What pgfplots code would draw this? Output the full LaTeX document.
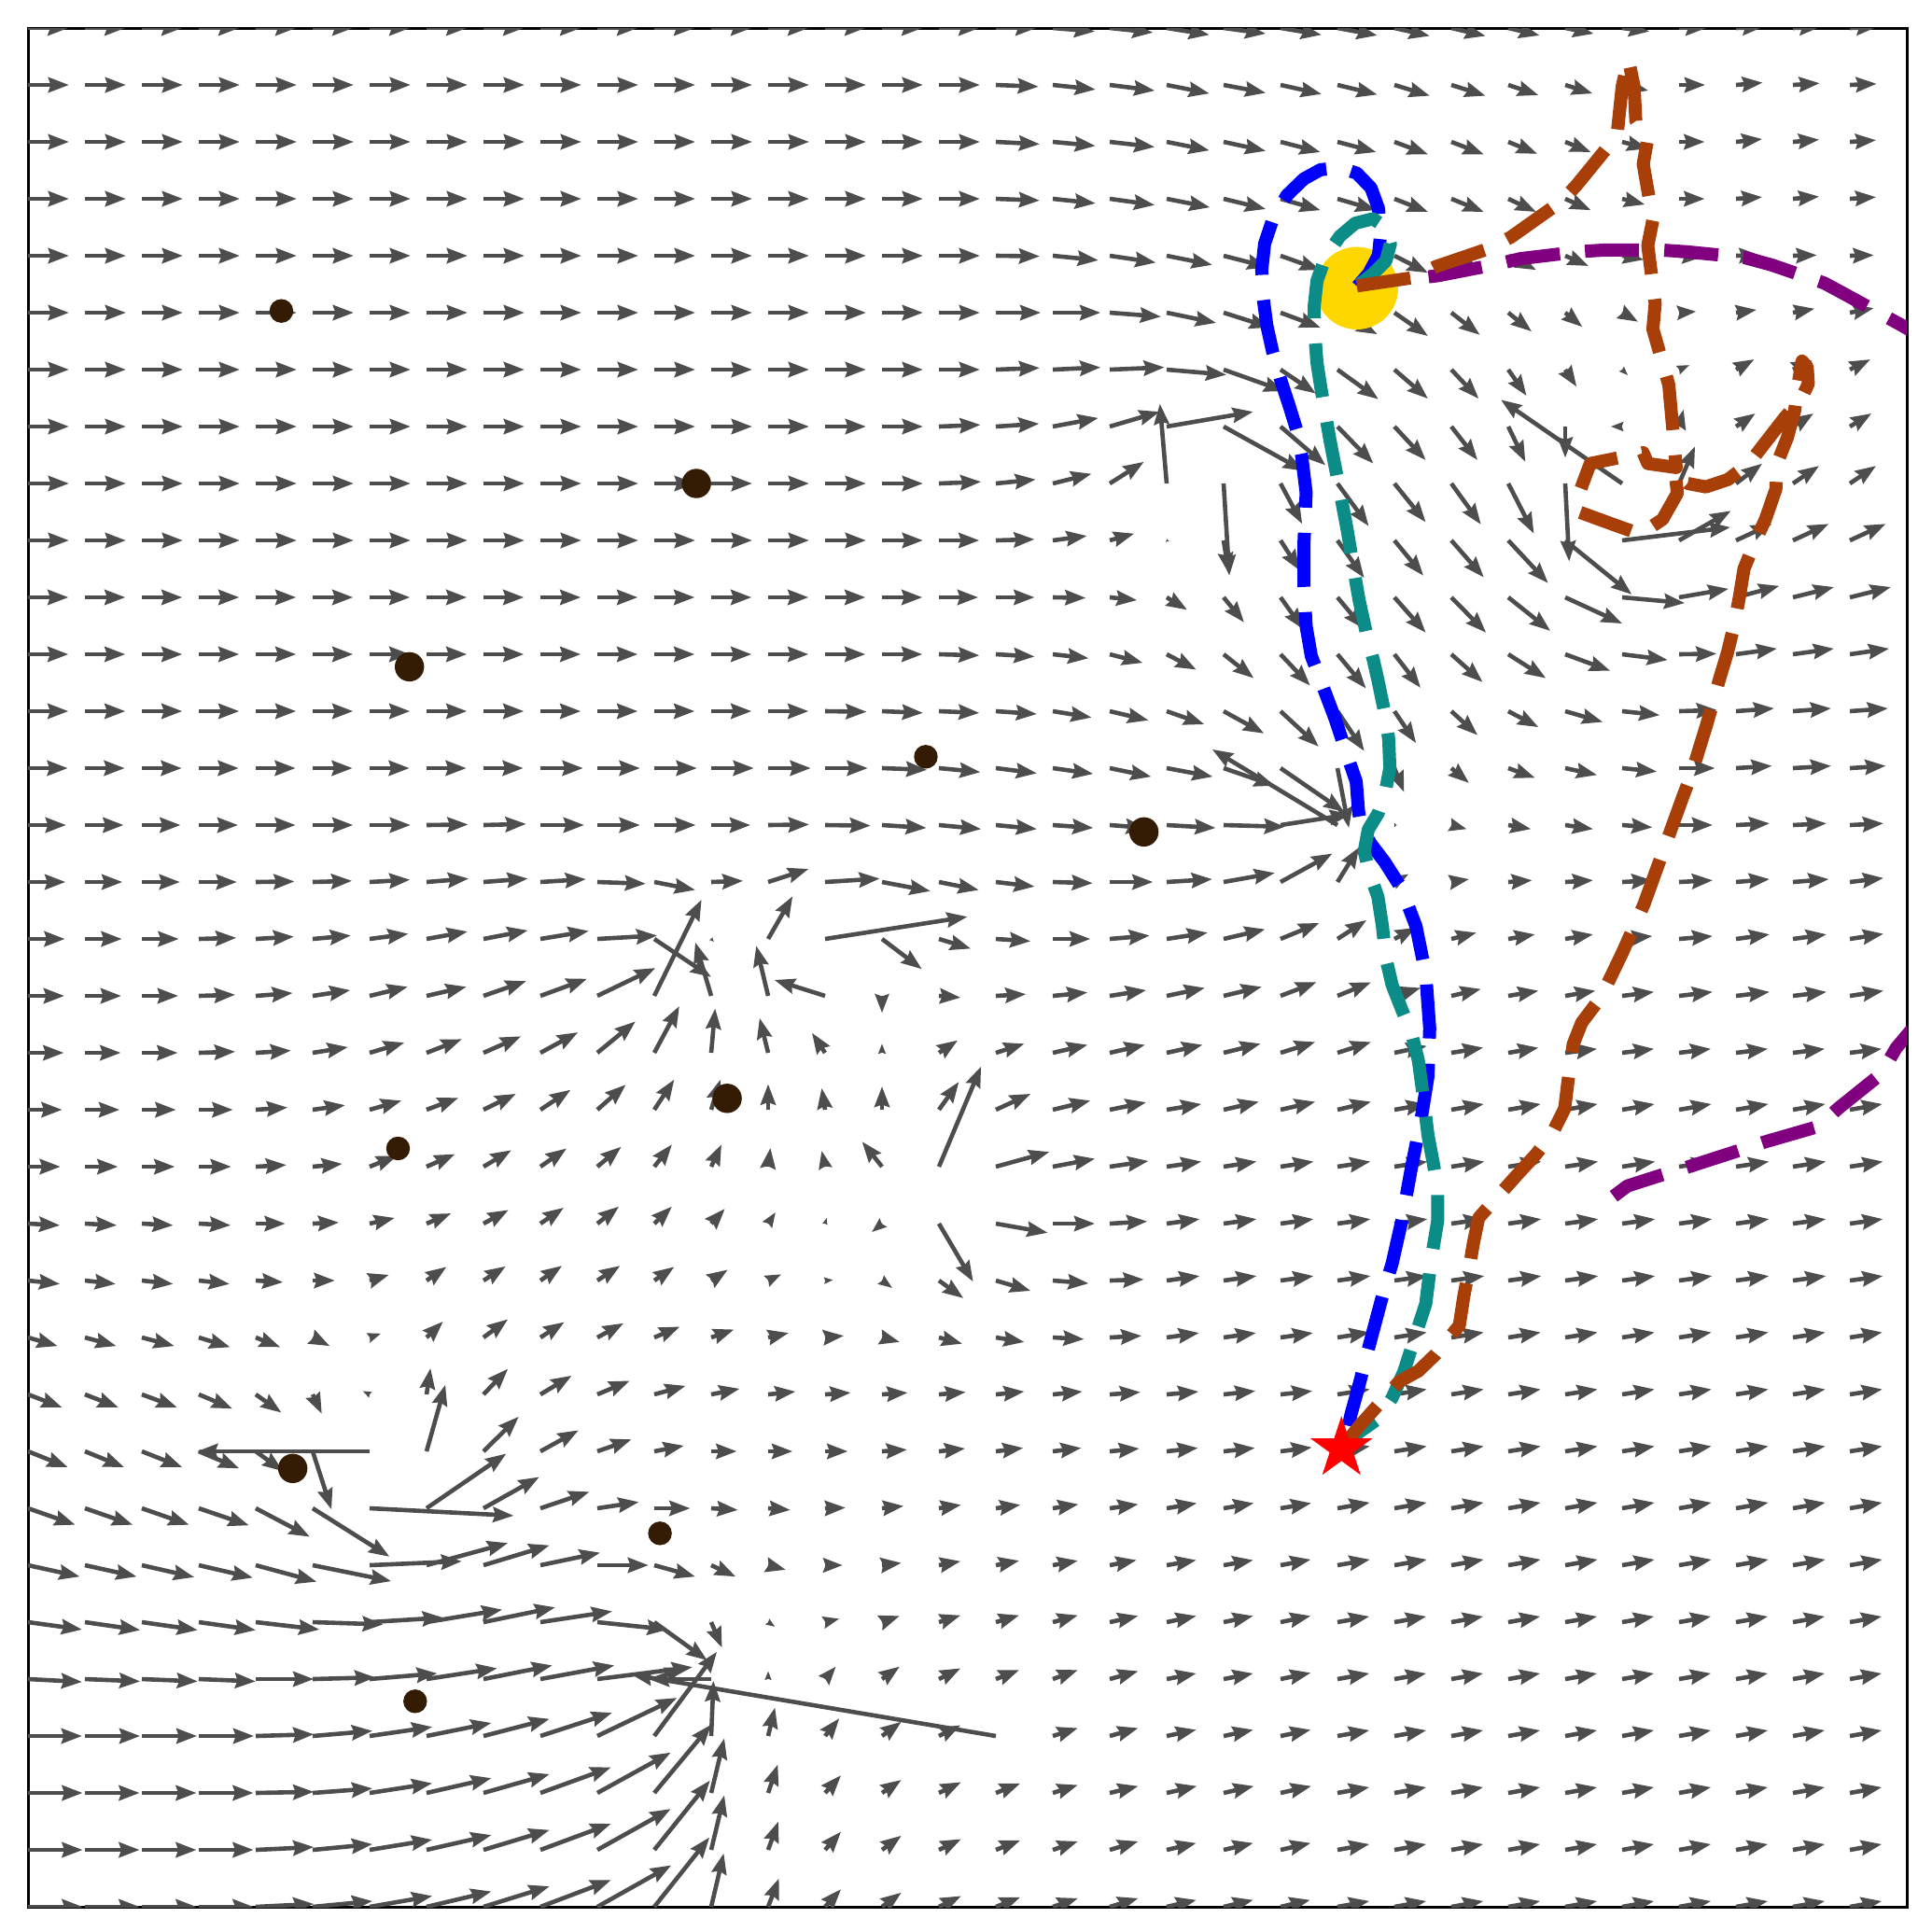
\documentclass[border=0pt]{standalone}
\usepackage{pgfplots}
\pgfplotsset{compat=1.18}
\usetikzlibrary{arrows.meta}
\definecolor{qgray}{RGB}{77,77,77}
\definecolor{obst}{RGB}{51,28,3}
\definecolor{goalc}{RGB}{255,215,0}
\definecolor{tealc}{RGB}{12,140,135}
\definecolor{brownc}{RGB}{168,62,8}
\definecolor{purplec}{RGB}{128,0,128}
\pgfdeclareplotmark{fstar}{%
  \pgfpathmoveto{\pgfpointpolar{90}{\pgfplotmarksize}}%
  \pgfpathlineto{\pgfpointpolar{126}{0.382*\pgfplotmarksize}}%
  \pgfpathlineto{\pgfpointpolar{162}{\pgfplotmarksize}}%
  \pgfpathlineto{\pgfpointpolar{198}{0.382*\pgfplotmarksize}}%
  \pgfpathlineto{\pgfpointpolar{234}{\pgfplotmarksize}}%
  \pgfpathlineto{\pgfpointpolar{270}{0.382*\pgfplotmarksize}}%
  \pgfpathlineto{\pgfpointpolar{306}{\pgfplotmarksize}}%
  \pgfpathlineto{\pgfpointpolar{342}{0.382*\pgfplotmarksize}}%
  \pgfpathlineto{\pgfpointpolar{18}{\pgfplotmarksize}}%
  \pgfpathlineto{\pgfpointpolar{54}{0.382*\pgfplotmarksize}}%
  \pgfpathclose
  \pgfusepathqfillstroke
}
\begin{document}
\begin{tikzpicture}
\useasboundingbox (-0.30,-0.27) rectangle (20.40,20.43);
\begin{axis}[
  at={(0,0)}, anchor=south west,
  width=20.13cm, height=20.13cm, scale only axis,
  xmin=0, xmax=33, ymin=0, ymax=33, y dir=reverse,
  xtick=\empty, ytick=\empty,
  axis line style={line width=0.03cm, black},
  point meta min=0, point meta max=0.33,
  clip=true, clip marker paths=true,
]
\addplot[
  color=qgray, line width=0.046cm,
  quiver={u=\thisrow{u}, v=\thisrow{v},
    every arrow/.append style={-{Stealth[length=0.22cm, width=0.16cm, inset=0.025cm,
      scale length={min(1,\pgfplotspointmetatransformed/1000)},
      scale width={min(1,\pgfplotspointmetatransformed/1000)}]}}},
  point meta={sqrt((\thisrow{u})^2+(\thisrow{v})^2)},
] table[row sep=\\] {
x y u v\\
0 0 0.71 0\\1 0 0.71 0\\2 0 0.71 0\\3 0 0.71 0\\4 0 0.71 0\\5 0 0.71 0\\6 0 0.71 0\\7 0 0.71 0\\8 0 0.71 0\\9 0 0.71 0\\10 0 0.71 0\\11 0 0.71 0\\12 0 0.71 0\\13 0 0.71 0\\14 0 0.71 0\\15 0 0.71 0\\16 0 0.71 0\\17 0 0.71 0\\18 0 0.74 0.06\\19 0 0.76 0.08\\20 0 0.75 0.12\\21 0 0.74 0.1\\22 0 0.72 0.12\\23 0 0.7 0.13\\24 0 0.62 0.14\\25 0 0.6 0.14\\26 0 0.55 0.13\\27 0 0.5 0.1\\28 0 0.48 0.06\\29 0 0.48 0\\30 0 0.48 -0.02\\31 0 0.48 -0.02\\32 0 0.48 -0.02\\
0 1 0.72 0\\1 1 0.72 0\\2 1 0.72 0\\3 1 0.72 0\\4 1 0.72 0\\5 1 0.72 0\\6 1 0.72 0\\7 1 0.72 0\\8 1 0.72 0\\9 1 0.72 0\\10 1 0.72 0\\11 1 0.72 0\\12 1 0.72 0\\13 1 0.72 0\\14 1 0.72 0\\15 1 0.72 0\\16 1 0.72 0\\17 1 0.75 0.03\\18 1 0.75 0.08\\19 1 0.79 0.1\\20 1 0.75 0.15\\21 1 0.74 0.14\\22 1 0.72 0.16\\23 1 0.7 0.17\\24 1 0.62 0.19\\25 1 0.6 0.19\\26 1 0.53 0.18\\27 1 0.48 0.15\\28 1 0.46 0.1\\29 1 0.46 0\\30 1 0.47 -0.04\\31 1 0.47 -0.03\\32 1 0.47 -0.02\\
0 2 0.72 0\\1 2 0.72 0\\2 2 0.72 0\\3 2 0.72 0\\4 2 0.72 0\\5 2 0.72 0\\6 2 0.72 0\\7 2 0.72 0\\8 2 0.72 0\\9 2 0.72 0\\10 2 0.72 0\\11 2 0.72 0\\12 2 0.72 0\\13 2 0.72 0\\14 2 0.72 0\\15 2 0.72 0\\16 2 0.72 0\\17 2 0.77 0.04\\18 2 0.75 0.07\\19 2 0.79 0.09\\20 2 0.75 0.15\\21 2 0.74 0.16\\22 2 0.7 0.18\\23 2 0.68 0.18\\24 2 0.59 0.22\\25 2 0.57 0.22\\26 2 0.51 0.21\\27 2 0.45 0.18\\28 2 0.45 0.12\\29 2 0.45 0\\30 2 0.46 -0.05\\31 2 0.46 -0.04\\32 2 0.46 -0.03\\
0 3 0.72 0\\1 3 0.72 0\\2 3 0.72 0\\3 3 0.72 0\\4 3 0.72 0\\5 3 0.72 0\\6 3 0.72 0\\7 3 0.72 0\\8 3 0.72 0\\9 3 0.72 0\\10 3 0.72 0\\11 3 0.72 0\\12 3 0.72 0\\13 3 0.72 0\\14 3 0.72 0\\15 3 0.72 0\\16 3 0.72 0\\17 3 0.77 0.03\\18 3 0.75 0.08\\19 3 0.79 0.11\\20 3 0.76 0.15\\21 3 0.74 0.18\\22 3 0.7 0.2\\23 3 0.68 0.2\\24 3 0.59 0.23\\25 3 0.57 0.23\\26 3 0.49 0.23\\27 3 0.45 0.2\\28 3 0.4 0.1\\29 3 0.45 0\\30 3 0.46 -0.03\\31 3 0.46 -0.04\\32 3 0.46 -0.03\\
0 4 0.72 0\\1 4 0.72 0\\2 4 0.72 0\\3 4 0.72 0\\4 4 0.72 0\\5 4 0.72 0\\6 4 0.72 0\\7 4 0.72 0\\8 4 0.72 0\\9 4 0.72 0\\10 4 0.72 0\\11 4 0.72 0\\12 4 0.72 0\\13 4 0.72 0\\14 4 0.72 0\\15 4 0.72 0\\16 4 0.72 0\\17 4 0.77 0.01\\18 4 0.8 0.08\\19 4 0.81 0.12\\20 4 0.8 0.16\\21 4 0.78 0.2\\22 4 0.7 0.25\\23 4 0.68 0.3\\24 4 0.59 0.3\\25 4 0.52 0.28\\26 4 0.49 0.25\\27 4 0.41 0.18\\28 4 0.38 0.07\\29 4 0.42 0.02\\30 4 0.42 -0.01\\31 4 0.42 -0.01\\32 4 0.42 -0.01\\
0 5 0.72 0\\1 5 0.72 0\\2 5 0.72 0\\3 5 0.72 0\\4 5 0.72 0\\5 5 0.72 0\\6 5 0.72 0\\7 5 0.72 0\\8 5 0.72 0\\9 5 0.72 0\\10 5 0.72 0\\11 5 0.72 0\\12 5 0.72 0\\13 5 0.72 0\\14 5 0.72 0\\15 5 0.72 0\\16 5 0.72 0\\17 5 0.79 0\\18 5 0.84 0\\19 5 0.9 0.07\\20 5 0.87 0.18\\21 5 0.82 0.26\\22 5 0.7 0.26\\23 5 0.7 0.38\\24 5 0.59 0.41\\25 5 0.5 0.39\\26 5 0.41 0.33\\27 5 0.3 0.25\\28 5 0.28 0.16\\29 5 0.3 -0.02\\30 5 0.36 -0.05\\31 5 0.38 -0.07\\32 5 0.42 -0.08\\
0 6 0.72 0\\1 6 0.72 0\\2 6 0.72 0\\3 6 0.72 0\\4 6 0.72 0\\5 6 0.72 0\\6 6 0.72 0\\7 6 0.72 0\\8 6 0.72 0\\9 6 0.72 0\\10 6 0.72 0\\11 6 0.72 0\\12 6 0.72 0\\13 6 0.72 0\\14 6 0.72 0\\15 6 0.72 0\\16 6 0.72 0\\17 6 0.77 -0.03\\18 6 0.84 -0.04\\19 6 0.96 -0.04\\20 6 1.05 0.09\\21 6 1.07 0.38\\22 6 0.62 0.42\\23 6 0.72 0.52\\24 6 0.59 0.51\\25 6 0.48 0.51\\26 6 0.32 0.46\\27 6 0.2 0.3\\28 6 0.1 0.1\\29 6 0.18 -0.08\\30 6 0.32 -0.18\\31 6 0.34 -0.16\\32 6 0.36 -0.18\\
0 7 0.72 0\\1 7 0.72 0\\2 7 0.72 0\\3 7 0.72 0\\4 7 0.72 0\\5 7 0.72 0\\6 7 0.72 0\\7 7 0.72 0\\8 7 0.72 0\\9 7 0.72 0\\10 7 0.72 0\\11 7 0.72 0\\12 7 0.72 0\\13 7 0.72 0\\14 7 0.72 0\\15 7 0.72 0\\16 7 0.73 -0.03\\17 7 0.76 -0.05\\18 7 0.8 -0.15\\19 7 0.88 -0.26\\20 7 1.52 -0.26\\21 7 1.41 0.78\\22 7 0.79 0.68\\23 7 0.63 0.65\\24 7 0.55 0.59\\25 7 0.46 0.59\\26 7 0.3 0.62\\27 7 0 0.55\\28 7 -0.2 0\\29 7 0.08 -0.3\\30 7 0.34 -0.23\\31 7 0.36 -0.23\\32 7 0.38 -0.23\\
0 8 0.72 0\\1 8 0.72 0\\2 8 0.72 0\\3 8 0.72 0\\4 8 0.72 0\\5 8 0.72 0\\6 8 0.72 0\\7 8 0.72 0\\8 8 0.72 0\\9 8 0.72 0\\10 8 0.72 0\\11 8 0.72 0\\12 8 0.72 0\\13 8 0.72 0\\14 8 0.72 0\\15 8 0.72 0\\16 8 0.74 -0.03\\17 8 0.7 -0.07\\18 8 0.68 -0.17\\19 8 0.6 -0.38\\20 8 -0.12 -1.4\\21 8 0.1 1.62\\22 8 0.38 0.71\\23 8 0.55 0.75\\24 8 0.55 0.68\\25 8 0.52 0.72\\26 8 0.45 0.88\\27 8 0.07 1.37\\28 8 -2.13 -1.47\\29 8 0.28 -0.65\\30 8 0.46 -0.35\\31 8 0.46 -0.31\\32 8 0.46 -0.31\\
0 9 0.72 0\\1 9 0.72 0\\2 9 0.72 0\\3 9 0.72 0\\4 9 0.72 0\\5 9 0.72 0\\6 9 0.72 0\\7 9 0.72 0\\8 9 0.72 0\\9 9 0.72 0\\10 9 0.72 0\\11 9 0.72 0\\12 9 0.72 0\\13 9 0.72 0\\14 9 0.72 0\\15 9 0.72 0\\16 9 0.71 0\\17 9 0.68 -0.02\\18 9 0.6 -0.08\\19 9 0.43 -0.12\\20 9 0.05 0.02\\21 9 0.09 0.58\\22 9 0.34 0.53\\23 9 0.47 0.66\\24 9 0.51 0.62\\25 9 0.57 0.65\\26 9 0.7 0.75\\27 9 1.17 0.95\\28 9 1.9 -0.23\\29 9 0.91 -0.52\\30 9 0.63 -0.29\\31 9 0.63 -0.29\\32 9 0.63 -0.29\\
0 10 0.71 0\\1 10 0.71 0\\2 10 0.71 0\\3 10 0.71 0\\4 10 0.71 0\\5 10 0.71 0\\6 10 0.71 0\\7 10 0.71 0\\8 10 0.71 0\\9 10 0.71 0\\10 10 0.71 0\\11 10 0.71 0\\12 10 0.71 0\\13 10 0.71 0\\14 10 0.71 0\\15 10 0.71 0\\16 10 0.69 0\\17 10 0.68 0\\18 10 0.58 0.01\\19 10 0.48 0.05\\20 10 0.36 0.22\\21 10 0.36 0.44\\22 10 0.4 0.56\\23 10 0.46 0.55\\24 10 0.55 0.62\\25 10 0.61 0.62\\26 10 0.74 0.59\\27 10 1.0 0.46\\28 10 1.1 0.1\\29 10 0.87 -0.15\\30 10 0.76 -0.2\\31 10 0.72 -0.18\\32 10 0.72 -0.18\\
0 11 0.71 0\\1 11 0.71 0\\2 11 0.71 0\\3 11 0.71 0\\4 11 0.71 0\\5 11 0.71 0\\6 11 0.71 0\\7 11 0.71 0\\8 11 0.71 0\\9 11 0.71 0\\10 11 0.71 0\\11 11 0.71 0\\12 11 0.71 0\\13 11 0.71 0\\14 11 0.71 0\\15 11 0.71 0\\16 11 0.71 0.02\\17 11 0.68 0.04\\18 11 0.63 0.07\\19 11 0.58 0.15\\20 11 0.52 0.27\\21 11 0.53 0.42\\22 11 0.52 0.55\\23 11 0.5 0.6\\24 11 0.46 0.59\\25 11 0.55 0.49\\26 11 0.66 0.42\\27 11 0.79 0.29\\28 11 0.8 0.1\\29 11 0.66 -0.01\\30 11 0.72 -0.1\\31 11 0.72 -0.1\\32 11 0.69 -0.1\\
0 12 0.71 0\\1 12 0.71 0\\2 12 0.71 0\\3 12 0.71 0\\4 12 0.71 0\\5 12 0.71 0\\6 12 0.71 0\\7 12 0.71 0\\8 12 0.71 0\\9 12 0.71 0\\10 12 0.71 0\\11 12 0.71 0\\12 12 0.71 0\\13 12 0.71 0\\14 12 0.73 0.01\\15 12 0.72 0.03\\16 12 0.71 0.03\\17 12 0.72 0.05\\18 12 0.68 0.11\\19 12 0.68 0.16\\20 12 0.66 0.23\\21 12 0.71 0.39\\22 12 0.67 0.62\\23 12 0.47 0.7\\24 12 0.38 0.56\\25 12 0.46 0.42\\26 12 0.53 0.28\\27 12 0.66 0.19\\28 12 0.66 0.07\\29 12 0.67 -0.02\\30 12 0.67 -0.05\\31 12 0.67 -0.05\\32 12 0.67 -0.05\\
0 13 0.7 0\\1 13 0.7 0\\2 13 0.7 0\\3 13 0.7 0\\4 13 0.7 0\\5 13 0.7 0\\6 13 0.7 0\\7 13 0.7 0\\8 13 0.7 0\\9 13 0.75 0\\10 13 0.75 0\\11 13 0.75 0\\12 13 0.75 0\\13 13 0.75 0\\14 13 0.75 0\\15 13 0.79 0.03\\16 13 0.73 0.07\\17 13 0.72 0.09\\18 13 0.71 0.1\\19 13 0.73 0.15\\20 13 0.81 0.15\\21 13 0.9 0.31\\22 13 1.12 0.77\\23 13 0.2 1.05\\24 13 0.17 0.42\\25 13 0.31 0.26\\26 13 0.47 0.17\\27 13 0.56 0.12\\28 13 0.61 0.06\\29 13 0.63 0\\30 13 0.63 -0.04\\31 13 0.67 -0.04\\32 13 0.63 -0.04\\
0 14 0.67 0\\1 14 0.68 0\\2 14 0.68 0\\3 14 0.69 0\\4 14 0.7 0\\5 14 0.71 0\\6 14 0.72 0\\7 14 0.73 -0.01\\8 14 0.75 -0.02\\9 14 0.77 0\\10 14 0.75 0\\11 14 0.73 0\\12 14 0.69 0\\13 14 0.72 -0.01\\14 14 0.8 0.01\\15 14 0.78 0.05\\16 14 0.74 0.07\\17 14 0.72 0.07\\18 14 0.71 0.05\\19 14 0.65 0.05\\20 14 0.86 0.05\\21 14 1.08 0.03\\22 14 1.23 -0.19\\23 14 -2.2 -1.33\\24 14 0.05 0\\25 14 0.27 0.07\\26 14 0.4 0.07\\27 14 0.49 0.07\\28 14 0.53 0.04\\29 14 0.59 0\\30 14 0.59 -0.03\\31 14 0.59 -0.03\\32 14 0.59 -0.03\\
0 15 0.66 0\\1 15 0.66 0\\2 15 0.67 0\\3 15 0.67 0\\4 15 0.68 -0.01\\5 15 0.69 -0.02\\6 15 0.71 -0.04\\7 15 0.74 -0.06\\8 15 0.78 -0.06\\9 15 0.8 -0.05\\10 15 0.85 0.03\\11 15 0.72 0.14\\12 15 0.56 -0.02\\13 15 0.71 -0.23\\14 15 0.96 -0.06\\15 15 0.85 0.16\\16 15 0.7 0.14\\17 15 0.68 0.08\\18 15 0.7 0.02\\19 15 0.76 0\\20 15 0.8 -0.05\\21 15 0.9 -0.16\\22 15 0.91 -0.5\\23 15 0.38 -0.61\\24 15 0.25 -0.14\\25 15 0.31 -0.05\\26 15 0.42 -0.03\\27 15 0.49 -0.03\\28 15 0.53 -0.03\\29 15 0.59 -0.03\\30 15 0.59 -0.05\\31 15 0.63 -0.05\\32 15 0.59 -0.07\\
0 16 0.65 0\\1 16 0.65 0\\2 16 0.65 0\\3 16 0.66 -0.02\\4 16 0.67 -0.04\\5 16 0.67 -0.06\\6 16 0.68 -0.09\\7 16 0.72 -0.13\\8 16 0.78 -0.15\\9 16 0.85 -0.14\\10 16 1.05 -0.06\\11 16 1.0 0.67\\12 16 0.05 0.05\\13 16 0.43 -0.75\\14 16 2.5 -0.39\\15 16 0.7 0.53\\16 16 0.56 0.17\\17 16 0.61 0.04\\18 16 0.66 0\\19 16 0.7 -0.06\\20 16 0.72 -0.11\\21 16 0.73 -0.17\\22 16 0.68 -0.28\\23 16 0.51 -0.33\\24 16 0.38 -0.2\\25 16 0.44 -0.11\\26 16 0.47 -0.08\\27 16 0.49 -0.08\\28 16 0.53 -0.05\\29 16 0.59 -0.05\\30 16 0.59 -0.08\\31 16 0.59 -0.08\\32 16 0.59 -0.09\\
0 17 0.64 0\\1 17 0.64 0\\2 17 0.64 0\\3 17 0.64 -0.02\\4 17 0.65 -0.05\\5 17 0.66 -0.1\\6 17 0.67 -0.16\\7 17 0.7 -0.16\\8 17 0.75 -0.26\\9 17 0.82 -0.3\\10 17 1.02 -0.49\\11 17 0.83 -1.69\\12 17 -0.28 -0.94\\13 17 -0.21 -0.88\\14 17 -0.89 -0.28\\15 17 0 0.3\\16 17 0.38 0.03\\17 17 0.53 -0.03\\18 17 0.61 -0.06\\19 17 0.64 -0.1\\20 17 0.67 -0.14\\21 17 0.67 -0.16\\22 17 0.63 -0.24\\23 17 0.59 -0.24\\24 17 0.46 -0.14\\25 17 0.52 -0.12\\26 17 0.53 -0.09\\27 17 0.53 -0.09\\28 17 0.56 -0.07\\29 17 0.59 -0.07\\30 17 0.59 -0.07\\31 17 0.59 -0.07\\32 17 0.59 -0.09\\
0 18 0.63 0\\1 18 0.63 0\\2 18 0.63 0\\3 18 0.64 -0.02\\4 18 0.62 -0.04\\5 18 0.62 -0.1\\6 18 0.61 -0.18\\7 18 0.62 -0.24\\8 18 0.66 -0.29\\9 18 0.66 -0.36\\10 18 0.67 -0.55\\11 18 0.44 -0.82\\12 18 0.07 -0.78\\13 18 -0.15 -0.61\\14 18 -0.23 -0.35\\15 18 0 -0.16\\16 18 0.33 -0.22\\17 18 0.5 -0.16\\18 18 0.61 -0.14\\19 18 0.62 -0.14\\20 18 0.63 -0.14\\21 18 0.65 -0.16\\22 18 0.61 -0.19\\23 18 0.59 -0.19\\24 18 0.57 -0.12\\25 18 0.56 -0.09\\26 18 0.53 -0.09\\27 18 0.56 -0.07\\28 18 0.56 -0.07\\29 18 0.56 -0.07\\30 18 0.56 -0.07\\31 18 0.56 -0.07\\32 18 0.56 -0.07\\
0 19 0.6 0\\1 19 0.61 0\\2 19 0.6 0\\3 19 0.6 0\\4 19 0.56 -0.04\\5 19 0.57 -0.08\\6 19 0.56 -0.16\\7 19 0.56 -0.21\\8 19 0.57 -0.28\\9 19 0.53 -0.35\\10 19 0.5 -0.44\\11 19 0.35 -0.53\\12 19 0.16 -0.53\\13 19 0 -0.45\\14 19 -0.06 -0.38\\15 19 0 -0.41\\16 19 0.35 -0.49\\17 19 0.61 -0.28\\18 19 0.66 -0.16\\19 19 0.64 -0.13\\20 19 0.61 -0.1\\21 19 0.62 -0.14\\22 19 0.61 -0.14\\23 19 0.59 -0.14\\24 19 0.57 -0.1\\25 19 0.57 -0.1\\26 19 0.57 -0.1\\27 19 0.57 -0.1\\28 19 0.57 -0.1\\29 19 0.57 -0.1\\30 19 0.57 -0.1\\31 19 0.57 -0.1\\32 19 0.57 -0.1\\
0 20 0.57 0\\1 20 0.58 0\\2 20 0.58 0\\3 20 0.57 0\\4 20 0.54 -0.03\\5 20 0.52 -0.05\\6 20 0.48 -0.19\\7 20 0.5 -0.22\\8 20 0.49 -0.29\\9 20 0.46 -0.32\\10 20 0.42 -0.35\\11 20 0.31 -0.39\\12 20 0.18 -0.39\\13 20 0.04 -0.33\\14 20 -0.06 -0.28\\15 20 -0.35 -0.44\\16 20 0.74 -1.76\\17 20 0.94 -0.26\\18 20 0.74 -0.14\\19 20 0.68 -0.1\\20 20 0.61 -0.09\\21 20 0.58 -0.09\\22 20 0.58 -0.09\\23 20 0.58 -0.09\\24 20 0.58 -0.09\\25 20 0.58 -0.09\\26 20 0.58 -0.09\\27 20 0.58 -0.09\\28 20 0.58 -0.09\\29 20 0.58 -0.09\\30 20 0.58 -0.09\\31 20 0.58 -0.09\\32 20 0.58 -0.09\\
0 21 0.56 0.03\\1 21 0.56 0.03\\2 21 0.55 0.03\\3 21 0.56 0.03\\4 21 0.52 0\\5 21 0.46 -0.02\\6 21 0.44 -0.1\\7 21 0.43 -0.18\\8 21 0.44 -0.24\\9 21 0.41 -0.28\\10 21 0.38 -0.3\\11 21 0.31 -0.3\\12 21 0.24 -0.26\\13 21 0.13 -0.2\\14 21 0.03 -0.1\\15 21 -0.18 0.15\\16 21 0.6 1.02\\17 21 0.91 0.16\\18 21 0.74 0\\19 21 0.66 -0.04\\20 21 0.58 -0.08\\21 21 0.58 -0.08\\22 21 0.58 -0.08\\23 21 0.58 -0.08\\24 21 0.58 -0.08\\25 21 0.58 -0.08\\26 21 0.58 -0.08\\27 21 0.58 -0.08\\28 21 0.58 -0.08\\29 21 0.58 -0.08\\30 21 0.58 -0.08\\31 21 0.58 -0.08\\32 21 0.58 -0.08\\
0 22 0.56 0.06\\1 22 0.54 0.06\\2 22 0.55 0.06\\3 22 0.54 0.06\\4 22 0.48 0.03\\5 22 0.39 0\\6 22 0.34 -0.1\\7 22 0.35 -0.24\\8 22 0.39 -0.25\\9 22 0.38 -0.26\\10 22 0.4 -0.26\\11 22 0.35 -0.24\\12 22 0.29 -0.19\\13 22 0.23 -0.11\\14 22 0.14 -0.01\\15 22 0.18 0.13\\16 22 0.43 0.31\\17 22 0.61 0.18\\18 22 0.63 0.05\\19 22 0.6 -0.02\\20 22 0.58 -0.08\\21 22 0.58 -0.08\\22 22 0.58 -0.08\\23 22 0.58 -0.08\\24 22 0.58 -0.08\\25 22 0.58 -0.08\\26 22 0.58 -0.08\\27 22 0.58 -0.08\\28 22 0.58 -0.08\\29 22 0.58 -0.08\\30 22 0.58 -0.08\\31 22 0.58 -0.08\\32 22 0.58 -0.08\\
0 23 0.52 0.15\\1 23 0.55 0.15\\2 23 0.57 0.15\\3 23 0.55 0.17\\4 23 0.43 0.17\\5 23 0.3 0.15\\6 23 0.2 -0.07\\7 23 0.29 -0.28\\8 23 0.43 -0.32\\9 23 0.42 -0.27\\10 23 0.46 -0.25\\11 23 0.45 -0.19\\12 23 0.4 -0.14\\13 23 0.36 -0.08\\14 23 0.33 -0.03\\15 23 0.31 0.08\\16 23 0.41 0.11\\17 23 0.5 0.08\\18 23 0.55 0.03\\19 23 0.56 -0.03\\20 23 0.57 -0.08\\21 23 0.57 -0.08\\22 23 0.57 -0.08\\23 23 0.57 -0.09\\24 23 0.57 -0.09\\25 23 0.57 -0.09\\26 23 0.57 -0.09\\27 23 0.57 -0.09\\28 23 0.57 -0.09\\29 23 0.57 -0.09\\30 23 0.57 -0.09\\31 23 0.57 -0.09\\32 23 0.57 -0.09\\
0 24 0.6 0.23\\1 24 0.59 0.23\\2 24 0.62 0.23\\3 24 0.59 0.25\\4 24 0.45 0.32\\5 24 0.16 0.34\\6 24 -0.12 -0.06\\7 24 0.07 -0.46\\8 24 0.43 -0.45\\9 24 0.55 -0.33\\10 24 0.57 -0.24\\11 24 0.55 -0.15\\12 24 0.5 -0.1\\13 24 0.48 -0.05\\14 24 0.45 -0.03\\15 24 0.45 -0.03\\16 24 0.47 -0.04\\17 24 0.5 -0.05\\18 24 0.52 -0.05\\19 24 0.54 -0.04\\20 24 0.56 -0.05\\21 24 0.56 -0.06\\22 24 0.56 -0.06\\23 24 0.57 -0.09\\24 24 0.57 -0.09\\25 24 0.57 -0.09\\26 24 0.57 -0.09\\27 24 0.57 -0.09\\28 24 0.57 -0.09\\29 24 0.57 -0.09\\30 24 0.57 -0.09\\31 24 0.57 -0.09\\32 24 0.57 -0.09\\
0 25 0.7 0.28\\1 25 0.69 0.28\\2 25 0.71 0.28\\3 25 0.71 0.3\\4 25 0.48 0.35\\5 25 0.33 1.02\\6 25 -3.03 0\\7 25 0.33 -1.17\\8 25 0.62 -0.61\\9 25 0.67 -0.37\\10 25 0.6 -0.21\\11 25 0.52 -0.1\\12 25 0.45 0\\13 25 0.43 0\\14 25 0.4 0\\15 25 0.44 -0.03\\16 25 0.46 -0.05\\17 25 0.48 -0.06\\18 25 0.5 -0.06\\19 25 0.52 -0.05\\20 25 0.55 -0.06\\21 25 0.55 -0.06\\22 25 0.55 -0.07\\23 25 0.57 -0.09\\24 25 0.57 -0.09\\25 25 0.57 -0.09\\26 25 0.57 -0.09\\27 25 0.57 -0.09\\28 25 0.57 -0.09\\29 25 0.57 -0.09\\30 25 0.57 -0.09\\31 25 0.57 -0.09\\32 25 0.57 -0.09\\
0 26 0.83 0.29\\1 26 0.84 0.29\\2 26 0.83 0.29\\3 26 0.88 0.3\\4 26 0.95 0.5\\5 26 1.35 0.85\\6 26 2.53 0.13\\7 26 1.4 -0.96\\8 26 0.98 -0.55\\9 26 0.86 -0.29\\10 26 0.73 -0.11\\11 26 0.63 0\\12 26 0.47 0.03\\13 26 0.39 0.03\\14 26 0.36 -0.01\\15 26 0.38 -0.04\\16 26 0.39 -0.06\\17 26 0.43 -0.06\\18 26 0.45 -0.07\\19 26 0.5 -0.07\\20 26 0.53 -0.09\\21 26 0.53 -0.09\\22 26 0.54 -0.09\\23 26 0.57 -0.1\\24 26 0.57 -0.1\\25 26 0.57 -0.1\\26 26 0.57 -0.1\\27 26 0.57 -0.1\\28 26 0.57 -0.1\\29 26 0.57 -0.1\\30 26 0.57 -0.1\\31 26 0.57 -0.1\\32 26 0.57 -0.1\\
0 27 0.91 0.2\\1 27 0.91 0.2\\2 27 0.92 0.21\\3 27 0.95 0.22\\4 27 1.07 0.29\\5 27 1.38 0.28\\6 27 1.62 -0.07\\7 27 1.43 -0.39\\8 27 1.16 -0.35\\9 27 1.05 -0.22\\10 27 0.9 0\\11 27 0.72 0.2\\12 27 0.43 0.2\\13 27 0.31 0.08\\14 27 0.31 0\\15 27 0.34 -0.04\\16 27 0.38 -0.07\\17 27 0.41 -0.08\\18 27 0.44 -0.08\\19 27 0.47 -0.09\\20 27 0.52 -0.09\\21 27 0.52 -0.09\\22 27 0.53 -0.1\\23 27 0.57 -0.1\\24 27 0.57 -0.1\\25 27 0.57 -0.1\\26 27 0.57 -0.1\\27 27 0.57 -0.1\\28 27 0.57 -0.1\\29 27 0.57 -0.1\\30 27 0.57 -0.1\\31 27 0.57 -0.1\\32 27 0.57 -0.1\\
0 28 0.95 0.13\\1 28 0.97 0.14\\2 28 0.98 0.14\\3 28 1.0 0.14\\4 28 1.12 0.13\\5 28 1.24 0.04\\6 28 1.29 -0.08\\7 28 1.33 -0.22\\8 28 1.26 -0.26\\9 28 1.26 -0.19\\10 28 1.24 0.13\\11 28 0.93 0.67\\12 28 0.19 0.45\\13 28 0.12 0.08\\14 28 0.25 -0.06\\15 28 0.31 -0.11\\16 28 0.38 -0.12\\17 28 0.41 -0.12\\18 28 0.44 -0.12\\19 28 0.5 -0.11\\20 28 0.52 -0.11\\21 28 0.52 -0.11\\22 28 0.53 -0.11\\23 28 0.56 -0.1\\24 28 0.56 -0.1\\25 28 0.56 -0.1\\26 28 0.56 -0.1\\27 28 0.56 -0.1\\28 28 0.56 -0.1\\29 28 0.56 -0.1\\30 28 0.56 -0.1\\31 28 0.56 -0.1\\32 28 0.56 -0.1\\
0 29 0.95 0.05\\1 29 0.97 0.04\\2 29 0.98 0.04\\3 29 1.0 0.04\\4 29 1.02 0\\5 29 1.1 -0.03\\6 29 1.19 -0.1\\7 29 1.24 -0.19\\8 29 1.21 -0.24\\9 29 1.3 -0.24\\10 29 1.67 -0.21\\11 29 0.55 -0.2\\12 29 -1.1 0\\13 29 0 -0.14\\14 29 0.19 -0.22\\15 29 0.31 -0.22\\16 29 0.38 -0.19\\17 29 0.41 -0.16\\18 29 0.44 -0.16\\19 29 0.5 -0.14\\20 29 0.52 -0.1\\21 29 0.52 -0.1\\22 29 0.53 -0.11\\23 29 0.56 -0.1\\24 29 0.56 -0.1\\25 29 0.56 -0.1\\26 29 0.56 -0.1\\27 29 0.56 -0.1\\28 29 0.56 -0.1\\29 29 0.56 -0.1\\30 29 0.56 -0.1\\31 29 0.56 -0.1\\32 29 0.56 -0.1\\
0 30 0.95 0\\1 30 0.97 0\\2 30 0.97 0\\3 30 0.97 0\\4 30 1.02 -0.03\\5 30 1.05 -0.09\\6 30 1.1 -0.16\\7 30 1.14 -0.23\\8 30 1.16 -0.3\\9 30 1.26 -0.41\\10 30 1.4 -0.67\\11 30 1.1 -1.48\\12 30 0.04 -0.97\\13 30 0.12 -0.5\\14 30 0.25 -0.31\\15 30 0.34 -0.25\\16 30 0.38 -0.19\\17 30 -6.4 -1.08\\18 30 0.44 -0.14\\19 30 0.5 -0.14\\20 30 0.52 -0.11\\21 30 0.52 -0.11\\22 30 0.53 -0.11\\23 30 0.56 -0.1\\24 30 0.56 -0.1\\25 30 0.56 -0.1\\26 30 0.56 -0.1\\27 30 0.56 -0.1\\28 30 0.56 -0.1\\29 30 0.56 -0.1\\30 30 0.56 -0.1\\31 30 0.56 -0.1\\32 30 0.56 -0.1\\
0 31 0.96 0\\1 31 0.96 0\\2 31 0.96 0\\3 31 0.96 0\\4 31 1.02 -0.02\\5 31 1.05 -0.08\\6 31 1.1 -0.17\\7 31 1.14 -0.26\\8 31 1.16 -0.33\\9 31 1.24 -0.45\\10 31 1.29 -0.71\\11 31 1.0 -1.2\\12 31 0.23 -0.96\\13 31 0.17 -0.5\\14 31 0.28 -0.31\\15 31 0.34 -0.23\\16 31 0.39 -0.19\\17 31 0.43 -0.17\\18 31 0.44 -0.14\\19 31 0.5 -0.12\\20 31 0.53 -0.12\\21 31 0.53 -0.12\\22 31 0.54 -0.12\\23 31 0.56 -0.1\\24 31 0.56 -0.1\\25 31 0.56 -0.1\\26 31 0.56 -0.1\\27 31 0.56 -0.1\\28 31 0.56 -0.1\\29 31 0.56 -0.1\\30 31 0.56 -0.1\\31 31 0.56 -0.1\\32 31 0.56 -0.1\\
0 32 0.96 0\\1 32 0.96 0\\2 32 0.96 0\\3 32 0.96 0\\4 32 1.02 -0.05\\5 32 1.05 -0.1\\6 32 1.1 -0.18\\7 32 1.14 -0.26\\8 32 1.16 -0.35\\9 32 1.24 -0.46\\10 32 1.29 -0.72\\11 32 0.98 -1.22\\12 32 0.23 -0.96\\13 32 0.18 -0.5\\14 32 0.28 -0.32\\15 32 0.34 -0.25\\16 32 0.39 -0.19\\17 32 0.43 -0.17\\18 32 0.44 -0.15\\19 32 0.5 -0.15\\20 32 0.52 -0.12\\21 32 0.52 -0.12\\22 32 0.53 -0.12\\23 32 0.56 -0.1\\24 32 0.56 -0.1\\25 32 0.56 -0.1\\26 32 0.56 -0.1\\27 32 0.56 -0.1\\28 32 0.56 -0.1\\29 32 0.56 -0.1\\30 32 0.56 -0.1\\31 32 0.56 -0.1\\32 32 0.56 -0.1\\
0 33 0.96 0\\1 33 0.96 0\\2 33 0.96 0\\3 33 0.96 0\\4 33 1.02 -0.05\\5 33 1.05 -0.1\\6 33 1.1 -0.19\\7 33 1.14 -0.27\\8 33 1.16 -0.36\\9 33 1.24 -0.47\\10 33 1.3 -0.73\\11 33 0.97 -1.22\\12 33 0.22 -0.94\\13 33 0.19 -0.5\\14 33 0.28 -0.31\\15 33 0.34 -0.25\\16 33 0.39 -0.19\\17 33 0.43 -0.17\\18 33 0.44 -0.15\\19 33 0.5 -0.15\\20 33 0.52 -0.12\\21 33 0.52 -0.12\\22 33 0.52 -0.12\\23 33 0.56 -0.1\\24 33 0.56 -0.1\\25 33 0.56 -0.1\\26 33 0.56 -0.1\\27 33 0.56 -0.1\\28 33 0.56 -0.1\\29 33 0.56 -0.1\\30 33 0.56 -0.1\\31 33 0.56 -0.1\\32 33 0.56 -0.1\\
};
% obstacles
\addplot[only marks, mark=*, mark size=0.15cm, color=obst] coordinates {
(11.74,8.0) (6.70,11.22) (19.6,14.12) (12.28,18.8) (4.65,25.3)};
\addplot[only marks, mark=*, mark size=0.12cm, color=obst] coordinates {
(4.45,4.97) (15.77,12.8) (6.5,19.68) (11.1,26.44) (6.8,29.39)};
% goal
\addplot[only marks, mark=*, mark size=0.435cm, color=goalc] coordinates {(23.34,4.57)};
% blue path (goal -> start)
\addplot[blue, line width=0.14cm, dash pattern=on 0.58cm off 0.27cm, line join=round] coordinates {
(23.35,4.54) (23.55,4.31) (23.72,3.99) (23.76,3.60) (23.72,3.17) (23.59,2.81) (23.34,2.55) (23.04,2.45) (22.70,2.49) (22.41,2.65) (22.11,2.94) (21.86,3.37) (21.72,3.79) (21.67,4.25) (21.69,4.70) (21.76,5.23) (21.86,5.68) (21.99,6.14) (22.16,6.66) (22.28,7.05) (22.37,7.51) (22.45,8.16) (22.41,9.08) (22.41,9.79) (22.45,10.51) (22.54,11.03) (22.70,11.45) (22.95,12.11) (23.20,12.86) (23.33,13.24) (23.37,13.76) (23.41,13.99) (23.58,14.32) (23.83,14.65) (24.13,15.12) (24.38,15.78) (24.55,16.62) (24.62,17.57) (24.59,18.41) (24.47,19.16) (24.30,20.01) (24.13,20.95) (23.96,21.70) (23.79,22.27) (23.54,23.21) (23.37,23.87) (23.24,24.34) (23.12,24.90) (23.07,24.95)};
% teal path (goal -> start)
\addplot[tealc, line width=0.14cm, dash pattern=on 0.58cm off 0.27cm, line join=round] coordinates {
(23.38,4.51) (23.63,4.31) (23.85,4.09) (23.93,3.79) (23.85,3.50) (23.62,3.35) (23.31,3.43) (23.04,3.66) (22.79,4.02) (22.64,4.44) (22.59,4.90) (22.60,5.36) (22.64,5.88) (22.71,6.33) (22.79,6.79) (22.87,7.25) (22.96,7.71) (23.06,8.23) (23.17,8.81) (23.28,9.47) (23.38,10.05) (23.51,10.64) (23.63,11.10) (23.71,11.45) (23.83,12.03) (23.90,12.49) (23.92,13.00) (23.83,13.47) (23.71,13.80) (23.54,14.08) (23.47,14.46) (23.56,14.84) (23.71,15.26) (23.79,15.78) (23.85,16.34) (23.96,16.81) (24.13,17.24) (24.30,17.66) (24.42,18.13) (24.51,18.79) (24.59,19.45) (24.68,19.92) (24.76,20.39) (24.76,20.95) (24.65,21.61) (24.55,22.41) (24.38,22.93) (24.17,23.59) (23.96,24.06) (23.71,24.43) (23.37,24.67) (23.07,24.95)};
% purple paths
\addplot[purplec, line width=0.14cm, dash pattern=on 0.58cm off 0.27cm, line join=round] coordinates {
(24.6,4.37) (24.77,4.35) (25.79,4.15) (26.22,4.05) (27.23,3.93) (27.68,3.90) (28.69,3.90) (29.13,3.93) (30.14,4.03) (30.62,4.16) (31.55,4.48) (31.92,4.68) (32.89,5.21) (33.4,5.5)};
\addplot[purplec, line width=0.14cm, dash pattern=on 0.58cm off 0.27cm, line join=round] coordinates {
(27.85,20.52) (28.09,20.34) (28.68,20.15) (29.14,20.01) (30.07,19.71) (30.49,19.57) (31.46,19.29) (31.79,18.98) (32.55,18.37) (32.81,17.92) (33.07,17.61) (33.4,17.3)};
% brown path (goal -> start)
\addplot[brownc, line width=0.14cm, dash pattern=on 0.58cm off 0.27cm, line join=round] coordinates {
(23.34,4.53) (24.36,4.38) (24.73,4.19) (25.70,3.86) (26.05,3.67) (26.94,3.04) (27.20,2.76) (27.91,1.89) (28.00,1.03) (28.11,0.55) (28.21,1.03) (28.24,1.63) (28.45,1.94) (28.37,2.39) (28.54,3.37) (28.45,3.82) (28.58,4.84) (28.54,5.29) (28.82,6.27) (28.95,7.72) (28.45,7.65) (28.37,7.46) (27.44,7.65) (27.26,8.13) (27.24,8.50) (27.87,8.73) (28.32,8.89) (28.71,8.63) (28.97,8.17) (28.93,7.80) (29.15,8.00) (29.47,8.06) (29.86,7.93) (30.23,7.65) (30.50,7.30) (30.85,6.85) (31.15,6.50) (31.27,6.25) (31.25,5.95) (31.16,5.85) (31.10,6.20) (31.03,6.72) (30.90,7.20) (30.72,7.65) (30.70,8.10) (30.52,8.62) (30.31,9.08) (30.14,9.50) (30.06,9.99) (29.97,10.48) (29.85,10.97) (29.72,11.40) (29.60,11.83) (29.48,12.25) (29.35,12.67) (29.22,13.10) (29.06,13.52) (28.89,13.99) (28.72,14.46) (28.55,14.93) (28.38,15.40) (28.21,15.78) (28.00,16.25) (27.75,16.77) (27.54,17.14) (27.29,17.47) (27.14,17.85) (27.06,18.41) (26.99,18.98) (26.78,19.40) (26.49,19.78) (26.15,20.15) (25.81,20.53) (25.48,20.90) (25.39,21.33) (25.31,21.80) (25.22,22.27) (25.14,22.79) (24.72,23.30) (24.42,23.59) (24.09,23.77) (23.70,24.20) (23.37,24.57) (23.07,24.95)};
% start star
\addplot[only marks, mark=fstar, mark size=0.326cm, color=red] coordinates {(23.07,24.95)};
\end{axis}
\end{tikzpicture}
\end{document}
